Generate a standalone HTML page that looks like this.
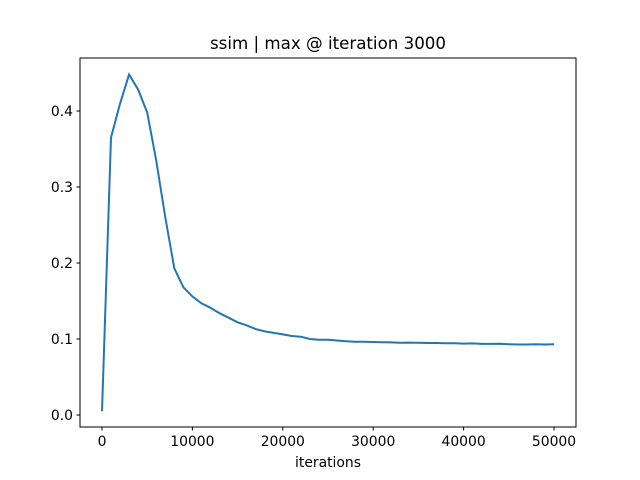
<!DOCTYPE html>
<html><head><meta charset="utf-8"><style>body{margin:0;background:#fff}svg{display:block;font-family:"DejaVu Sans","Liberation Sans",sans-serif}</style></head>
<body>
<svg id="chart" width="640" height="480" viewBox="0 0 640 480">
<rect width="640" height="480" fill="#fff"/>
<text x="328" y="49" font-size="16.67" text-anchor="middle">ssim | max @ iteration 3000</text>
<g id="ticks"></g>
<path id="line" fill="none" stroke="#1f77b4" stroke-width="2"/>
<rect x="80" y="58" width="496" height="369" fill="none" stroke="#000" stroke-width="1"/>
<text x="328" y="467" font-size="13.9" text-anchor="middle">iterations</text>
</svg>
<script>
const iterations = [];
for (let i = 0; i <= 50; i++) iterations.push(i * 1000);
const ssimValues = [0.005,0.365,0.41,0.448,0.428,0.398,0.335,0.26,0.193,0.168,0.156,0.147,0.141,0.134,0.128,0.122,0.118,0.113,0.110,0.108,0.106,0.104,0.103,0.100,0.099,0.099,0.098,0.097,0.0965,0.0963,0.096,0.0958,0.0955,0.095,0.0952,0.095,0.0948,0.0947,0.0943,0.0943,0.094,0.0942,0.0935,0.0935,0.0937,0.0932,0.0928,0.0928,0.093,0.0928,0.093];
const xTicks = [0,10000,20000,30000,40000,50000];
const yTicks = [0.0,0.1,0.2,0.3,0.4];
const xs = v => 102 + v * 452 / 50000;
const ys = v => 415 - v * 760;
const g = document.getElementById('ticks');
const NS = 'http://www.w3.org/2000/svg';
xTicks.forEach(t => {
  const l = document.createElementNS(NS,'line');
  
  
  l.setAttribute('x1', xs(t)); l.setAttribute('x2', xs(t));
  l.setAttribute('y1', 427); l.setAttribute('y2', 430.5); l.setAttribute('stroke', '#000');
  g.appendChild(l);
  const tx = document.createElementNS(NS,'text');
  
  
  tx.setAttribute('x', xs(t)); tx.setAttribute('y', 446); tx.setAttribute('font-size', '13.9'); tx.setAttribute('text-anchor', 'middle');
  tx.textContent = String(t);
  g.appendChild(tx);
});
yTicks.forEach(t => {
  const l = document.createElementNS(NS,'line');
  
  
  l.setAttribute('x1', 76.5); l.setAttribute('x2', 80);
  l.setAttribute('y1', ys(t)); l.setAttribute('y2', ys(t)); l.setAttribute('stroke', '#000');
  g.appendChild(l);
  const tx = document.createElementNS(NS,'text');
  
  
  tx.setAttribute('x', 73); tx.setAttribute('y', ys(t) + 5); tx.setAttribute('font-size', '13.9'); tx.setAttribute('text-anchor', 'end');
  tx.textContent = t.toFixed(1);
  g.appendChild(tx);
});
document.getElementById('line').setAttribute('d', iterations.map((x,i) => (i ? 'L' : 'M') + xs(x).toFixed(1) + ',' + ys(ssimValues[i]).toFixed(1)).join(''));
</script>
</body></html>
